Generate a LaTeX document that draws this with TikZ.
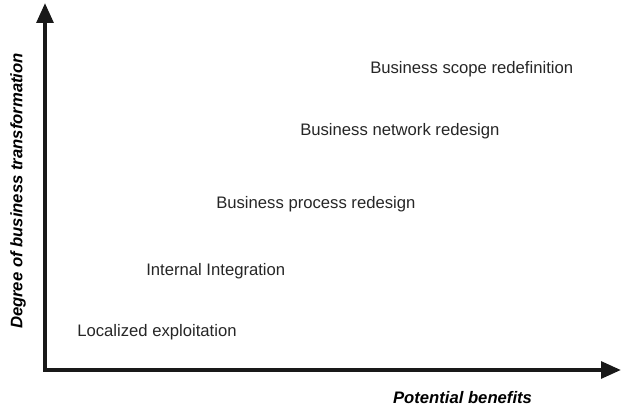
\documentclass[tikz,border=0pt]{standalone}
\usepackage{fontspec}
\setmainfont{Liberation Sans}
\usetikzlibrary{arrows.meta}
\begin{document}
\begin{tikzpicture}[x=0.75pt,y=-0.75pt,
  lbl/.style={anchor=west,inner sep=0pt,font=\fontsize{12.5pt}{14pt}\selectfont,text=black!85},
  axlbl/.style={inner sep=0pt,font=\fontsize{12.5pt}{14pt}\selectfont\bfseries\itshape},
  axis/.style={line width=3pt,draw=black!90,line join=miter,
    {Triangle[length=15pt,width=12.5pt]}-{Triangle[length=15pt,width=12.5pt]}}]
\useasboundingbox (0,0) rectangle (621,410);
\coordinate (top) at (45,3);
\coordinate (corner) at (45,370);
\coordinate (right) at (621,370);
\draw[axis] (top) -- (corner) -- (right);
\node[lbl] (s5) at (370,69) {Business scope redefinition};
\node[lbl] (s4) at (300,131) {Business network redesign};
\node[lbl] (s3) at (216,204) {Business process redesign};
\node[lbl] (s2) at (146,271) {Internal Integration};
\node[lbl] (s1) at (77,332) {Localized exploitation};
\node[axlbl] (xl) at (462.5,398) {Potential benefits};
\node[axlbl,rotate=90] (yl) at (18,191) {Degree of business transformation};
\end{tikzpicture}
\end{document}
